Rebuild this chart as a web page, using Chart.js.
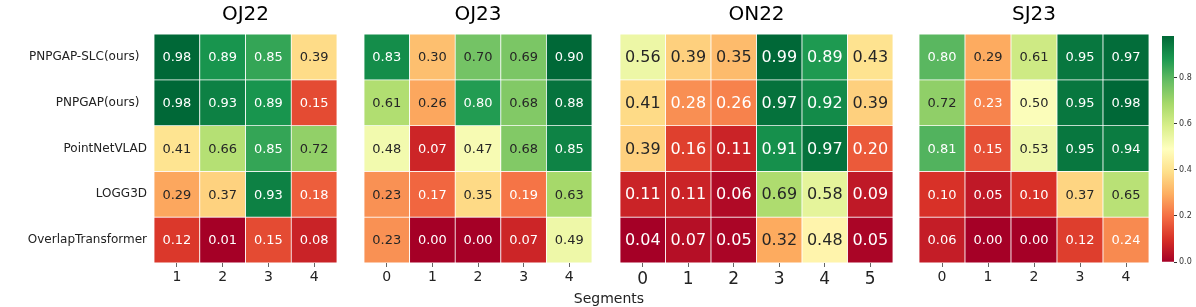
<!DOCTYPE html>
<html>
<head>
<meta charset="utf-8">
<script src="https://cdn.jsdelivr.net/npm/chart.js@4.4.0/dist/chart.umd.min.js"></script>
<style>
  body { margin: 0; background: #fff; width: 1196px; height: 307px; position: relative; overflow: hidden; font-family: "DejaVu Sans", sans-serif; }
  canvas { position: absolute; top: 0; }
  #xlabel { position: absolute; top: 290px; left: 509px; width: 200px; text-align: center; font-size: 14px; line-height: 16px; color: #222; }
</style>
</head>
<body>
<canvas id="c0" width="340" height="307" style="left:0px"></canvas>
<canvas id="c1" width="228" height="307" style="left:364px"></canvas>
<canvas id="c2" width="273" height="307" style="left:620px"></canvas>
<canvas id="c3" width="230" height="307" style="left:919px"></canvas>
<canvas id="cbar" width="38" height="307" style="left:1158px"></canvas>
<div id="xlabel">Segments</div>
<script>
// methods (rows, same in every panel)
var methods = ['PNPGAP-SLC(ours)  ', 'PNPGAP(ours)  ', 'PointNetVLAD', 'LOGG3D', 'OverlapTransformer'];

var oj22Segments = ['1', '2', '3', '4'];
var oj22 = [
  [0.98, 0.89, 0.85, 0.39],
  [0.98, 0.93, 0.89, 0.15],
  [0.41, 0.66, 0.85, 0.72],
  [0.29, 0.37, 0.93, 0.18],
  [0.12, 0.01, 0.15, 0.08]
];

var oj23Segments = ['0', '1', '2', '3', '4'];
var oj23 = [
  [0.83, 0.30, 0.70, 0.69, 0.90],
  [0.61, 0.26, 0.80, 0.68, 0.88],
  [0.48, 0.07, 0.47, 0.68, 0.85],
  [0.23, 0.17, 0.35, 0.19, 0.63],
  [0.23, 0.00, 0.00, 0.07, 0.49]
];

var on22Segments = ['0', '1', '2', '3', '4', '5'];
var on22 = [
  [0.56, 0.39, 0.35, 0.99, 0.89, 0.43],
  [0.41, 0.28, 0.26, 0.97, 0.92, 0.39],
  [0.39, 0.16, 0.11, 0.91, 0.97, 0.20],
  [0.11, 0.11, 0.06, 0.69, 0.58, 0.09],
  [0.04, 0.07, 0.05, 0.32, 0.48, 0.05]
];

var sj23Segments = ['0', '1', '2', '3', '4'];
var sj23 = [
  [0.80, 0.29, 0.61, 0.95, 0.97],
  [0.72, 0.23, 0.50, 0.95, 0.98],
  [0.81, 0.15, 0.53, 0.95, 0.94],
  [0.10, 0.05, 0.10, 0.37, 0.65],
  [0.06, 0.00, 0.00, 0.12, 0.24]
];

var colorbarTicks = [0.0, 0.2, 0.4, 0.6, 0.8];

// RdYlGn colormap anchors
var rdylgn = ['#a50026', '#d73027', '#f46d43', '#fdae61', '#fee08b', '#ffffbf',
              '#d9ef8b', '#a6d96a', '#66bd63', '#1a9850', '#006837'];

function hexRgb(h) {
  return [parseInt(h.substr(1, 2), 16), parseInt(h.substr(3, 2), 16), parseInt(h.substr(5, 2), 16)];
}

function cmap(t) {
  t = Math.max(0, Math.min(1, t)) * (rdylgn.length - 1);
  var i = Math.min(Math.floor(t), rdylgn.length - 2);
  var f = t - i;
  var a = hexRgb(rdylgn[i]), b = hexRgb(rdylgn[i + 1]);
  return [0, 1, 2].map(function (k) { return Math.round(a[k] + (b[k] - a[k]) * f); });
}

function luminance(rgb) {
  var c = rgb.map(function (v) {
    v = v / 255;
    return v <= 0.03928 ? v / 12.92 : Math.pow((v + 0.055) / 1.055, 2.4);
  });
  return 0.2126 * c[0] + 0.7152 * c[1] + 0.0722 * c[2];
}

// write the value in the middle of every cell
const annotate = {
  id: 'annotate',
  afterDatasetsDraw(chart) {
    const ctx = chart.ctx;
    const size = chart.options.plugins.annotate.size;
    ctx.save();
    ctx.font = size + 'px "DejaVu Sans"';
    ctx.textAlign = 'center';
    ctx.textBaseline = 'middle';
    chart.data.datasets.forEach(function (ds, i) {
      chart.getDatasetMeta(i).data.forEach(function (bar, j) {
        ctx.fillStyle = ds.textColors[j];
        ctx.fillText(ds.values[j].toFixed(2), bar.x, (bar.y + bar.base) / 2 + 1);
      });
    });
    ctx.restore();
  }
};

function heatmap(id, title, segments, values, opts) {
  var flat = [].concat.apply([], values);
  var vmin = Math.min.apply(null, flat), vmax = Math.max.apply(null, flat);
  var datasets = values.map(function (row, r) {
    var colors = row.map(function (v) { return cmap((v - vmin) / (vmax - vmin)); });
    return {
      label: methods[r],
      data: row.map(function () { return [r, r + 1]; }),
      values: row,
      backgroundColor: colors.map(function (c) { return 'rgb(' + c.join(',') + ')'; }),
      textColors: colors.map(function (c) { return luminance(c) > 0.408 ? '#262626' : '#ffffff'; }),
      borderColor: '#ffffff',
      borderWidth: 0.75,
      borderSkipped: false,
      grouped: false,
      barPercentage: 1,
      categoryPercentage: 1
    };
  });

  var yAxis = {
    type: 'linear',
    min: 0,
    max: methods.length,
    reverse: true,
    display: opts.showY,
    border: { display: false },
    grid: { display: false, drawTicks: false },
    afterBuildTicks: function (scale) {
      scale.ticks = methods.map(function (m, i) { return { value: i + 0.5 }; });
    },
    ticks: {
      color: '#222',
      padding: 7,
      font: { family: 'DejaVu Sans', size: 12 },
      callback: function (v) { return methods[Math.floor(v)]; }
    }
  };
  if (opts.showY) {
    yAxis.afterFit = function (scale) { scale.width = 154; };
  }

  return new Chart(document.getElementById(id), {
    type: 'bar',
    data: { labels: segments, datasets: datasets },
    plugins: [annotate],
    options: {
      responsive: false,
      animation: false,
      layout: { padding: { left: 0, right: opts.padRight || 0, top: 0, bottom: 0 } },
      plugins: {
        legend: { display: false },
        tooltip: { enabled: false },
        annotate: { size: opts.cellFont },
        title: {
          display: true,
          fullSize: false,
          text: title,
          color: '#000',
          font: { family: 'DejaVu Sans', size: 20, weight: 'normal', lineHeight: 1.2 },
          padding: { top: 3, bottom: 7 }
        }
      },
      scales: {
        x: {
          type: 'category',
          offset: true,
          border: { display: false },
          grid: { display: true, offset: false, drawOnChartArea: false, drawTicks: true, tickLength: 4, tickColor: '#666' },
          ticks: { color: '#222', padding: 2, maxRotation: 0, font: { family: 'DejaVu Sans', size: opts.tickFont } },
          afterFit: function (scale) { scale.height = 44; }
        },
        y: yAxis
      }
    }
  });
}

heatmap('c0', 'OJ22', oj22Segments, oj22, { showY: true, padRight: 3, cellFont: 13, tickFont: 14 });
heatmap('c1', 'OJ23', oj23Segments, oj23, { showY: false, cellFont: 13, tickFont: 14 });
heatmap('c2', 'ON22', on22Segments, on22, { showY: false, cellFont: 16, tickFont: 17 });
heatmap('c3', 'SJ23', sj23Segments, sj23, { showY: false, cellFont: 13, tickFont: 14 });

// colorbar for the last panel
var sjFlat = [].concat.apply([], sj23);
var cbMin = Math.min.apply(null, sjFlat), cbMax = Math.max.apply(null, sjFlat);

new Chart(document.getElementById('cbar'), {
  type: 'bar',
  data: {
    labels: ['cb'],
    datasets: [{
      data: [[cbMin, cbMax]],
      backgroundColor: function (ctx) {
        var area = ctx.chart.chartArea;
        if (!area) return '#ffffbf';
        var g = ctx.chart.ctx.createLinearGradient(0, area.bottom, 0, area.top);
        rdylgn.forEach(function (c, i) { g.addColorStop(i / (rdylgn.length - 1), c); });
        return g;
      },
      borderWidth: 0,
      barPercentage: 1,
      categoryPercentage: 1
    }]
  },
  options: {
    responsive: false,
    animation: false,
    layout: { padding: { left: 4, right: 0, top: 36, bottom: 45 } },
    plugins: { legend: { display: false }, tooltip: { enabled: false } },
    scales: {
      x: { display: false },
      y: {
        type: 'linear',
        position: 'right',
        min: cbMin,
        max: cbMax,
        border: { display: false },
        grid: { drawOnChartArea: false, drawTicks: true, tickLength: 3, tickColor: '#333' },
        afterBuildTicks: function (scale) {
          scale.ticks = colorbarTicks.map(function (v) { return { value: v }; });
        },
        ticks: {
          color: '#333',
          padding: 2,
          font: { family: 'DejaVu Sans', size: 8 },
          callback: function (v) { return v.toFixed(1); }
        },
        afterFit: function (scale) { scale.width = 22; }
      }
    }
  }
});
</script>
</body>
</html>
